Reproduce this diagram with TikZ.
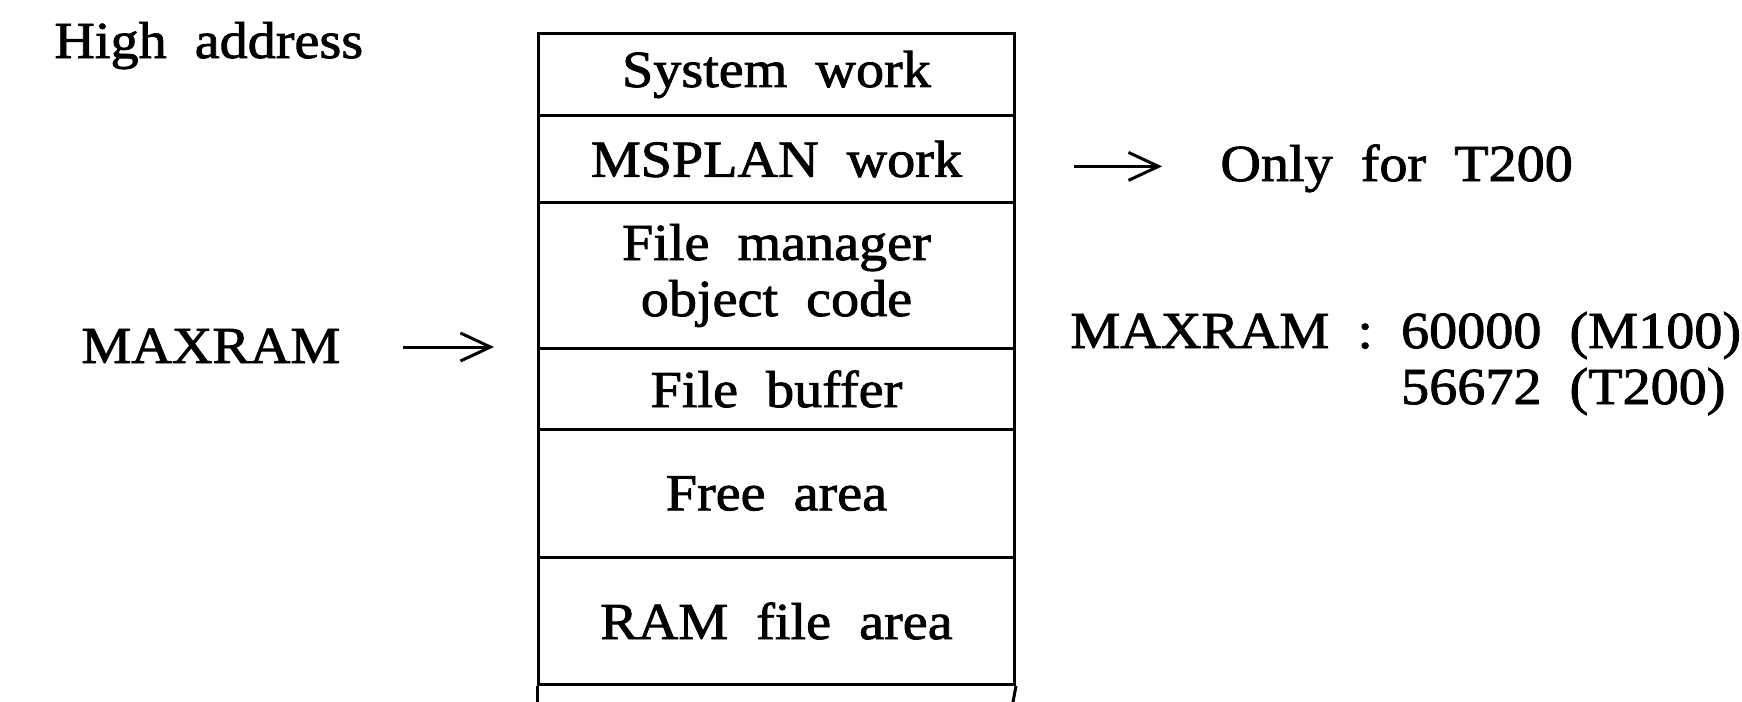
\documentclass[tikz,border=0pt]{standalone}
\usepackage{fontspec}
\setmainfont{Liberation Serif}[FakeStretch=1.08,WordSpace=2,FakeBold=1.6]
\usetikzlibrary{arrows.meta}

\tikzset{
	txt/.style={font=\fontsize{26}{28}\selectfont, inner sep=0pt},
	cell/.style={txt, draw, line width=1.5pt, minimum width=238pt, anchor=north west, align=center},
	ptr/.style={line width=1.5pt, -{Straight Barb[length=15pt,width=14pt,line width=1.5pt]}}
}

\begin{document}
\begin{tikzpicture}[x=0.5pt, y=-0.5pt]
			%%%%% START %%%%%
			\useasboundingbox (0, 0) rectangle (1742, 702);
			
			\node[txt, anchor=base west] (highaddr) at (54, 58) {High address};
			
			\node[cell, minimum height=41pt] (syswork) at (537, 32) {System work};
			\node[cell, minimum height=43.5pt] (msplan) at (537, 114) {MSPLAN work};
			\node[cell, minimum height=73pt] (fmcode) at (537, 201) {File manager\\object code};
			\node[cell, minimum height=40.5pt] (filebuf) at (537, 347) {File buffer};
			\node[cell, minimum height=64pt] (freearea) at (537, 428) {Free area};
			\node[cell, minimum height=63.5pt] (ramfile) at (537, 556) {RAM file area};
			
			\draw[line width=1.5pt] (ramfile.south west) -- (537, 702);
			\draw[line width=1.5pt] (ramfile.south east) -- (1013, 702);
			
			\node[txt, anchor=base west] (maxleft) at (81, 363) {MAXRAM};
			\draw[ptr, shorten <=31pt, shorten >=21.5pt] (maxleft.east |- filebuf.north west) -- (filebuf.north west);
			
			\node[txt, anchor=base west] (onlyt) at (1220, 181) {Only for T200};
			\draw[ptr, shorten <=29pt, shorten >=29pt] ([yshift=5pt]msplan.east |- onlyt.mid west) -- ([yshift=5pt]onlyt.mid west);
			
			% base of a two-line node is the last line
			\node[txt, anchor=base west, align=left] (maxnote) at (1070, 404) {MAXRAM : 60000 (M100)\\\hphantom{MAXRAM : }56672 (T200)};
			
			%%%%% END %%%%%
\end{tikzpicture}
\end{document}
